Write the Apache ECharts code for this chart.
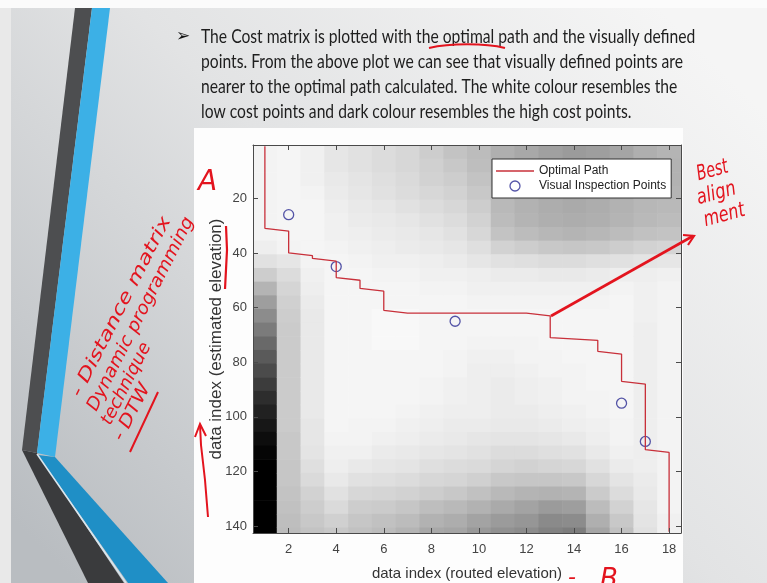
<!DOCTYPE html>
<html>
<head>
<meta charset="utf-8">
<title>Cost matrix with optimal path</title>
<script src="https://cdn.jsdelivr.net/npm/echarts@6/dist/echarts.min.js"></script>
<style>
html, body { margin: 0; padding: 0; background: #fff; }
#main { width: 767px; height: 583px; }
</style>
</head>
<body>
<div id="main"></div>
<script>
// cost matrix: one list per column (routed elevation 1..18),
// each value is a 5-row block of estimated elevation, top to bottom. 0 = white, 100 = black
var costCols = [
  [3,3,3,3,3,3,3,5,10,18,28,37,44,51,58,64,70,76,82,87,91,95,98,100,100,100,100,100,100],
  [2,2,2,2,2,2,2,3,8,12,15,17,18,19,19,19,19,19,19,19,19,20,20,21,21,22,23,24,25],
  [4,4,4,3,2,2,2,2,3,4,5,6,7,7,7,7,7,7,7,7,8,8,9,11,13,16,18,20,22],
  [8,8,7,6,5,4,4,3,2,2,2,2,2,2,2,2,2,2,2,2,2,3,4,5,7,10,13,17,20],
  [10,10,9,8,7,6,5,4,3,2,2,2,2,2,2,2,2,2,2,2,3,3,4,7,10,14,18,21,23],
  [12,12,11,10,8,7,6,5,4,3,2,2,1,1,1,2,2,2,2,2,3,4,6,8,11,15,19,23,25],
  [14,14,13,12,10,8,7,6,4,3,2,2,1,1,1,2,2,2,2,3,4,5,7,9,12,16,21,25,28],
  [18,17,16,14,12,10,8,7,5,4,3,2,2,2,2,2,2,3,3,4,5,6,8,11,14,18,24,29,33],
  [22,20,18,16,14,12,10,8,6,4,3,2,2,2,2,3,3,4,4,5,6,7,9,12,15,20,26,31,34],
  [25,24,22,20,18,16,14,11,8,5,4,3,2,2,3,4,5,5,5,5,6,8,10,13,17,23,29,35,39],
  [30,29,28,27,26,25,22,16,10,6,4,3,2,2,3,4,5,6,6,6,7,9,12,15,20,26,32,38,42],
  [33,32,31,30,29,28,25,18,11,6,4,3,2,2,3,3,4,5,5,6,7,9,12,16,21,28,35,40,44],
  [36,35,34,33,31,30,27,20,12,7,4,3,2,2,2,3,3,4,4,5,6,8,11,15,21,29,38,45,48],
  [38,37,35,34,32,31,28,21,12,7,4,3,2,2,2,2,3,3,3,4,5,7,10,14,20,28,37,44,50],
  [37,36,34,33,31,30,27,20,11,6,4,3,2,2,2,2,2,2,3,3,4,5,7,10,14,19,25,30,34],
  [34,33,32,31,29,28,25,18,10,5,3,2,2,2,2,2,2,2,2,2,3,3,4,6,9,12,16,20,23],
  [30,30,29,28,27,26,23,16,9,5,4,4,4,5,5,5,5,5,5,5,5,5,5,5,6,7,8,9,10],
  [28,29,29,28,26,25,22,15,8,4,3,3,3,3,3,3,3,3,3,3,3,3,3,3,3,3,3,4,4]
];
var blockRows = 5;
var nRows = 142;

// optimal path corners (routed index, estimated index)
var pathX = [1, 1, 2, 2, 3, 3, 4, 4, 5, 5, 6, 6, 7, 12, 13, 13, 15, 15, 16, 16, 17, 17, 18, 18];
var pathY = [1, 31, 32, 40, 41, 42, 43, 49, 50, 53, 54, 61, 62, 62, 63, 71, 72, 76, 77, 87, 88, 112, 113, 142];

// visual inspection points
var pointsX = [2, 4, 9, 16, 17];
var pointsY = [26, 45, 65, 95, 109];

var xTicks = [2, 4, 6, 8, 10, 12, 14, 16, 18];
var yTicks = [20, 40, 60, 80, 100, 120, 140];

var slideLines = [
  'The Cost matrix is plotted with the optimal path and the visually defined',
  'points. From the above plot we can see that visually defined points are',
  'nearer to the optimal path calculated. The white colour resembles the',
  'low cost points and dark colour resembles the high cost points.'
];
var noteLines = ['- Distance matrix', 'Dynamic programming', 'technique', '- DTW'];

var heatData = [];
costCols.forEach(function (col, c) {
  col.forEach(function (v, k) {
    var r0 = k * blockRows + 0.5;
    var r1 = Math.min((k + 1) * blockRows, nRows) + 0.5;
    heatData.push([c + 1, r0, r1, v]);
  });
});

var pathData = pathX.map(function (x, i) { return [x, pathY[i]]; });
var pointData = pointsX.map(function (x, i) { return [x, pointsY[i]]; });

var measureCtx = document.createElement('canvas').getContext('2d');
function fitScale(text, font, width) {
  measureCtx.font = font;
  return width / measureCtx.measureText(text).width;
}

var red = '#e3141e';
var slideFont = '20px Lato';
var slideScale = fitScale(slideLines[1], slideFont, 482);
var handFont = 'italic 18px "DejaVu Sans"';

var graphics = [];
// slide background
graphics.push({
  type: 'rect', z: 0, shape: { x: 0, y: 0, width: 767, height: 583 },
  style: { fill: new echarts.graphic.LinearGradient(0.85, 0, 0.1, 1, [
    { offset: 0, color: '#f5f5f5' },
    { offset: 0.45, color: '#e2e3e4' },
    { offset: 1, color: '#b9bdc1' }
  ]) }
});
graphics.push({ type: 'rect', z: 0, shape: { x: 0, y: 0, width: 11, height: 583 }, style: { fill: '#e9e9e9' } });
graphics.push({ type: 'rect', z: 0, shape: { x: 0, y: 0, width: 767, height: 8 }, style: { fill: '#fbfbfb' } });
// left chevron stripes
graphics.push({ type: 'polygon', z: 1, shape: { points: [[75, 8], [92, 8], [37, 453], [22, 450]] }, style: { fill: '#4d4e50' } });
graphics.push({ type: 'polygon', z: 1, shape: { points: [[92, 8], [110, 8], [55, 457], [37, 453]] }, style: { fill: '#3cb0e6' } });
graphics.push({ type: 'polygon', z: 1, shape: { points: [[22, 450], [37, 453], [124, 583], [88, 583]] }, style: { fill: '#3a3b3d' } });
graphics.push({ type: 'polygon', z: 1, shape: { points: [[38, 455], [55, 457], [168, 583], [128, 583]] }, style: { fill: '#1f8fc6' } });
graphics.push({ type: 'polyline', z: 1, shape: { points: [[37, 454], [126, 583]] }, style: { stroke: '#d9e6ee', lineWidth: 1.5 } });
// figure panel
graphics.push({ type: 'rect', z: 1, shape: { x: 194, y: 128, width: 489, height: 455 }, style: { fill: '#fdfdfd' } });
// slide text
graphics.push({ type: 'text', z: 1, x: 176, y: 37, style: { text: '\u27A2', font: 'bold 17px "DejaVu Sans"', fill: '#111', verticalAlign: 'middle' } });
slideLines.forEach(function (line, i) {
  graphics.push({
    type: 'text', z: 1, x: 201, y: 37 + i * 25, scaleX: slideScale,
    style: { text: line, font: slideFont, fill: '#1e1e1e', verticalAlign: 'middle' }
  });
});
// hand-written notes
graphics.push({ type: 'bezierCurve', z: 50, shape: { x1: 429, y1: 48, cpx1: 450, cpy1: 43, cpx2: 485, cpy2: 43, x2: 505, y2: 48 }, style: { stroke: red, lineWidth: 2, fill: null } });
graphics.push({ type: 'text', z: 50, x: 198, y: 183, style: { text: 'A', font: 'italic 28px "DejaVu Sans"', fill: red, verticalAlign: 'middle' } });
graphics.push({ type: 'text', z: 50, x: 568, y: 578, style: { text: '-', font: 'italic 22px "DejaVu Sans"', fill: red, verticalAlign: 'middle' } });
graphics.push({ type: 'text', z: 50, x: 600, y: 580, style: { text: 'B', font: 'italic 26px "DejaVu Sans"', fill: red, verticalAlign: 'middle' } });
graphics.push({ type: 'polyline', z: 50, shape: { points: [[551, 316], [693, 236]] }, style: { stroke: red, lineWidth: 2.6 } });
graphics.push({ type: 'polyline', z: 50, shape: { points: [[683, 235], [694, 236], [688, 245]] }, style: { stroke: red, lineWidth: 2.2, fill: null } });
[['Best', 697, 175, 32], ['align', 697, 199, 40], ['ment', 704, 221, 42]].forEach(function (w) {
  graphics.push({
    type: 'text', z: 50, x: w[1], y: w[2], rotation: 15 * Math.PI / 180,
    scaleX: fitScale(w[0], 'italic 21px "DejaVu Sans"', w[3]),
    style: { text: w[0], font: 'italic 21px "DejaVu Sans"', fill: red, verticalAlign: 'middle' }
  });
});
[[76, 396, 200], [92, 410, 215], [106, 424, 90], [118, 440, 62]].forEach(function (p, i) {
  graphics.push({
    type: 'text', z: 50, x: p[0], y: p[1], rotation: 63 * Math.PI / 180,
    scaleX: fitScale(noteLines[i], handFont, p[2]),
    style: { text: noteLines[i], font: handFont, fill: red, verticalAlign: 'middle' }
  });
});
graphics.push({ type: 'polyline', z: 50, shape: { points: [[130, 452], [158, 392]] }, style: { stroke: red, lineWidth: 2 } });
graphics.push({ type: 'polyline', z: 50, shape: { points: [[226, 226], [227, 250], [225, 289]] }, style: { stroke: red, lineWidth: 2.2, fill: null } });
graphics.push({ type: 'polyline', z: 50, shape: { points: [[208, 517], [205, 480], [201, 445], [200, 425]] }, style: { stroke: red, lineWidth: 2, fill: null } });
graphics.push({ type: 'polyline', z: 50, shape: { points: [[195, 437], [200, 424], [206, 436]] }, style: { stroke: red, lineWidth: 2, fill: null } });

var axisFont = 'Liberation Sans';
var boxLine = { show: true, onZero: false, lineStyle: { color: '#4a4a4a', width: 1 } };
var boxTick = { show: true, inside: true, length: 5, customValues: xTicks, lineStyle: { color: '#4a4a4a' } };
var boxTickY = { show: true, inside: true, length: 5, customValues: yTicks, lineStyle: { color: '#4a4a4a' } };

var myChart = echarts.init(document.getElementById('main'));
var option = {
  animation: false,
  graphic: graphics,
  grid: { left: 253, top: 145, width: 428, height: 388, outerBoundsMode: 'none' },
  visualMap: {
    show: false, type: 'continuous', seriesIndex: 0, dimension: 3,
    min: 0, max: 100, inRange: { color: ['#fafafa', '#000000'] }
  },
  legend: {
    orient: 'vertical', left: 492, top: 159, selectedMode: false, z: 20,
    backgroundColor: '#ffffff', borderColor: '#333', borderWidth: 1, borderRadius: 0,
    padding: [6, 5, 6, 4], itemGap: 3, itemWidth: 38, itemHeight: 10,
    textStyle: { fontSize: 12, color: '#222', fontFamily: axisFont },
    data: [
      { name: 'Optimal Path', icon: 'path://M0,0H38V1.3H0Z', itemStyle: { color: '#c8303a' } },
      { name: 'Visual Inspection Points', icon: 'circle',
        itemStyle: { color: 'rgba(0,0,0,0)', borderColor: '#2b2b92', borderWidth: 1.3 } }
    ]
  },
  xAxis: [{
    type: 'value', min: 0.5, max: 18.5, position: 'bottom', z: 10,
    name: 'data index (routed elevation)', nameLocation: 'middle', nameGap: 33, nameMoveOverlap: false,
    nameTextStyle: { fontSize: 15, color: '#333', fontFamily: axisFont },
    axisLine: boxLine, axisTick: boxTick,
    axisLabel: { customValues: xTicks, margin: 10, fontSize: 13, color: '#444', fontFamily: axisFont },
    splitLine: { show: false }
  }, {
    type: 'value', min: 0.5, max: 18.5, position: 'top', z: 10,
    axisLine: boxLine, axisTick: boxTick,
    axisLabel: { show: false },
    splitLine: { show: false }
  }],
  yAxis: [{
    type: 'value', min: 0.5, max: 142.5, inverse: true, position: 'left', z: 10,
    name: 'data index (estimated elevation)', nameLocation: 'middle', nameGap: 28, nameRotate: 90, nameMoveOverlap: false,
    nameTextStyle: { fontSize: 17, color: '#333', fontFamily: axisFont },
    axisLine: boxLine, axisTick: boxTickY,
    axisLabel: { customValues: yTicks, margin: 6, fontSize: 13, color: '#444', fontFamily: axisFont },
    splitLine: { show: false }
  }, {
    type: 'value', min: 0.5, max: 142.5, inverse: true, position: 'right', z: 10,
    axisLine: boxLine, axisTick: boxTickY,
    axisLabel: { show: false },
    splitLine: { show: false }
  }],
  series: [{
    name: 'cost', type: 'custom', xAxisIndex: 0, yAxisIndex: 0,
    dimensions: ['col', 'r0', 'r1', 'cost'],
    encode: { x: 0, y: [1, 2] },
    renderItem: function (params, api) {
      var c = api.value(0);
      var p0 = api.coord([c - 0.5, api.value(1)]);
      var p1 = api.coord([c + 0.5, api.value(2)]);
      return {
        type: 'rect',
        shape: {
          x: Math.min(p0[0], p1[0]), y: Math.min(p0[1], p1[1]),
          width: Math.abs(p1[0] - p0[0]) + 0.6, height: Math.abs(p1[1] - p0[1]) + 0.6
        },
        style: { fill: api.visual('color') }
      };
    },
    data: heatData
  }, {
    name: 'Optimal Path', type: 'line', xAxisIndex: 0, yAxisIndex: 0,
    symbol: 'none', lineStyle: { color: '#c8303a', width: 1.3 }, itemStyle: { color: '#c8303a' },
    data: pathData
  }, {
    name: 'Visual Inspection Points', type: 'scatter', xAxisIndex: 0, yAxisIndex: 0,
    symbol: 'circle', symbolSize: 10,
    itemStyle: { color: 'rgba(0,0,0,0)', borderColor: '#2b2b92', borderWidth: 1.3 },
    data: pointData
  }]
};
if (option && typeof option === 'object') {
  myChart.setOption(option, true);
}
</script>
</body>
</html>
